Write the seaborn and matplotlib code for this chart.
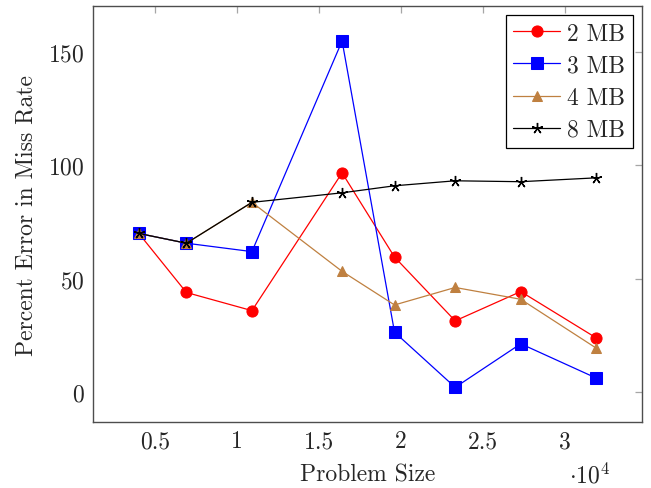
import matplotlib
matplotlib.use('Agg')
import matplotlib.pyplot as plt
from matplotlib.ticker import FuncFormatter, FixedLocator
import seaborn as sns

# problem sizes and percent error per cache size
sizes = [4000, 6900, 10900, 16400, 19600, 23300, 27300, 31900]
err_2mb = [70, 44, 36, 96.7, 59.6, 31.5, 44.4, 24]
err_3mb = [70, 65.7, 62, 154.8, 26.5, 2.2, 21.4, 6.3]
err_4mb = [70, 65.7, 83.7, 53.3, 38.5, 46.2, 41, 19.5]
err_8mb = [70, 65.7, 83.7, 87.9, 91, 93.2, 92.8, 94.5]
labels = ['2 MB', '3 MB', '4 MB', '8 MB']
x_ticks = [5000, 10000, 15000, 20000, 25000, 30000]
y_ticks = [0, 50, 100, 150]

sns.set_style('white')
plt.rcParams['font.family'] = 'serif'
plt.rcParams['font.serif'] = ['cmr10']
plt.rcParams['mathtext.fontset'] = 'cm'
plt.rcParams['axes.formatter.use_mathtext'] = True

FS = 17

fig = plt.figure(figsize=(6.51, 4.89), dpi=100)
ax = fig.add_axes([0.143, 0.135, 0.843, 0.85])

styles = [
    dict(color='red', marker='o', markersize=8),
    dict(color='blue', marker='s', markersize=8),
    dict(color='#BF8040', marker='^', markersize=7.5),
    dict(color='black', marker=(5, 2, 0), markersize=8, markeredgewidth=1.0),
]
for vals, lab, st in zip([err_2mb, err_3mb, err_4mb, err_8mb], labels, styles):
    sns.lineplot(x=sizes, y=vals, ax=ax, label=lab, sort=False, linewidth=0.9,
                 markeredgecolor=st['color'], **st)

ax.margins(x=0.1, y=0.1)
ax.xaxis.set_major_locator(FixedLocator(x_ticks))
ax.yaxis.set_major_locator(FixedLocator(y_ticks))
ax.xaxis.set_major_formatter(FuncFormatter(lambda v, p: f'{v / 1e4:g}'))
ax.tick_params(direction='in', top=True, right=True, length=5, width=0.9,
               color='0.65', labelsize=FS, pad=6)
for s in ax.spines.values():
    s.set_color('0.3')
    s.set_linewidth(1.0)

ax.set_xlabel('Problem Size', fontsize=FS, labelpad=8)
ax.set_ylabel('Percent Error in Miss Rate', fontsize=FS, labelpad=8)
# offset text for the x axis, kept just inside the bottom edge
fig.text(590 / 651, 1 - 463 / 489, r'$\cdot 10^4$', fontsize=FS,
         ha='center', va='top')

leg = ax.legend(loc='upper right', bbox_to_anchor=(0.983, 0.978), fontsize=FS,
                frameon=True, fancybox=False, edgecolor='black', framealpha=1,
                handlelength=2.0, handletextpad=0.3, borderpad=0.3,
                labelspacing=0.42, borderaxespad=0)
leg.get_frame().set_linewidth(0.9)

fig.savefig('out.png', dpi=100)
